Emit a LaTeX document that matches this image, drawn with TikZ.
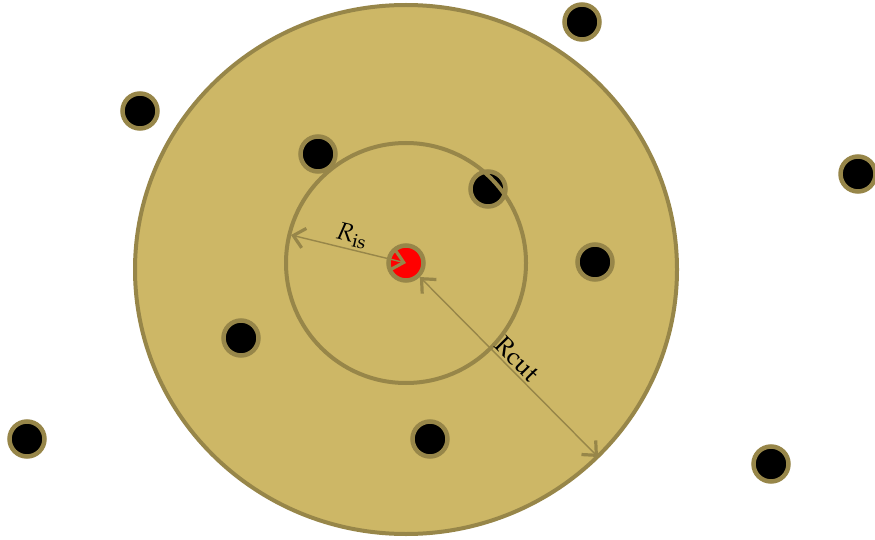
\documentclass[tikz,border=0pt]{standalone}
\usepackage{mathpazo}
\usetikzlibrary{arrows.meta}
\definecolor{RDFGold}{HTML}{CDB766}
\definecolor{RDFOlive}{HTML}{978649}
\definecolor{RDFRed}{HTML}{FF0000}
\tikzset{
  rdfatom/.style={
    circle,
    draw=RDFOlive,
    fill=black,
    line width=4.5pt,
    minimum size=35pt,
    inner sep=0pt
  },
  rdfcentre/.style={rdfatom,fill=RDFRed},
  rdfshell/.style={draw=RDFOlive,line width=4pt},
  rdfarrow/.style={<->,draw=RDFOlive,line width=1.4pt},
  rdflabel/.style={font=\fontsize{25}{29}\selectfont,text=black,inner sep=2pt}
}

\begin{document}
\begin{tikzpicture}[x=1pt,y=-1pt,>={Straight Barb[length=11pt,width=20pt,line width=3.2pt]}]
  \useasboundingbox (0,0) rectangle (875,540);
  % cut-off sphere
  \draw[rdfshell,fill=RDFGold] (406,269.5) ellipse [x radius=271,y radius=264.5];
  % atoms
  \node[rdfcentre] (centre) at (406,263) {};
  \node[rdfatom] (a1) at (582,22) {};
  \node[rdfatom] (a2) at (140,111) {};
  \node[rdfatom] (a3) at (318,154) {};
  \node[rdfatom] (a4) at (488,189) {};
  \node[rdfatom] (a5) at (858,174) {};
  \node[rdfatom] (a6) at (595,262) {};
  \node[rdfatom] (a7) at (241,338) {};
  \node[rdfatom] (a8) at (27,439) {};
  \node[rdfatom] (a9) at (430,439) {};
  \node[rdfatom] (a10) at (771,464) {};
  % inner sphere
  \draw[rdfshell] (centre.center) circle [radius=120];
  \coordinate (isend) at (291,235);
  \coordinate (cutend) at (598,457);
  \draw[rdfarrow] (isend) -- (centre.center)
    node[midway,above,sloped,rdflabel] {$R_{\mathrm{is}}$};
  \draw[rdfarrow] (centre) -- (cutend)
    node[midway,above,sloped,rdflabel] {$\mathrm{Rcut}$};
\end{tikzpicture}
\end{document}
